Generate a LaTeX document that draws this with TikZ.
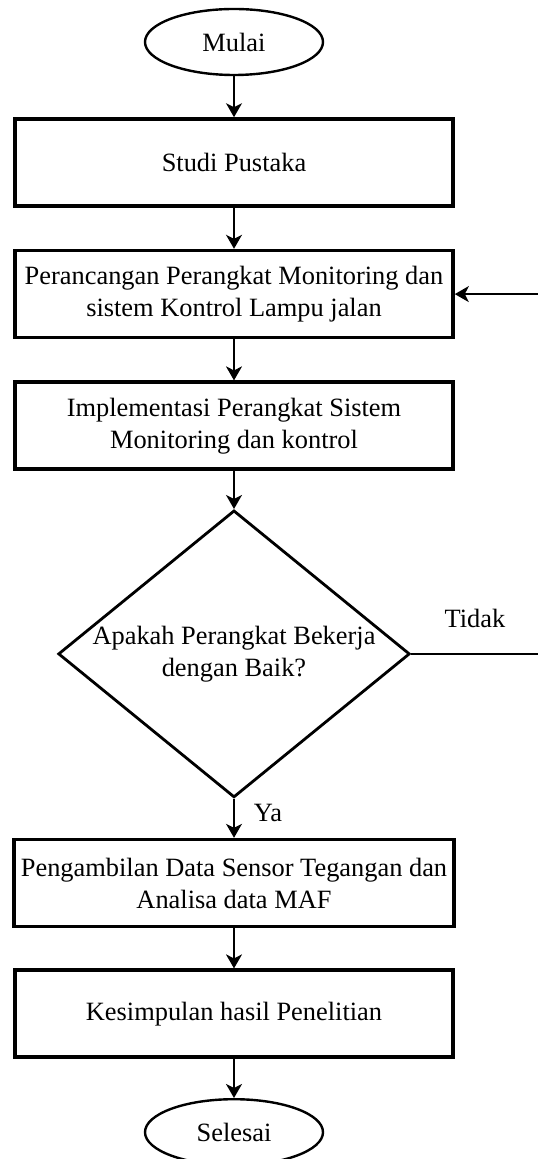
\documentclass[tikz,border=0pt]{standalone}
\usepackage{fontspec}
\setmainfont{Liberation Serif}
\usetikzlibrary{shapes.geometric, arrows.meta, positioning}

\begin{document}
\begin{tikzpicture}[node distance=20.5pt,
        font=\fontsize{13.2}{16}\selectfont,
        proses/.style={rectangle, draw, line width=1.8pt, minimum width=219pt, minimum height=43.5pt, align=center},
        terminal/.style={ellipse, draw, line width=1.2pt, minimum width=89pt, minimum height=33pt},
        keputusan/.style={diamond, draw, line width=1.4pt, minimum width=174pt, minimum height=140.5pt, aspect=1.225, inner sep=0pt, align=center},
        panah/.style={-{Stealth[length=7pt, width=8pt, inset=2pt]}, line width=0.75pt}]
        \useasboundingbox (0,0) rectangle (268.5pt,-579.5pt);

        \node (mulai) [terminal] at (117pt,-21pt) {Mulai};
        \node (studi) [proses, below=of mulai] {Studi Pustaka};
        \node (rancang) [proses, below=20.5pt of studi] {Perancangan Perangkat Monitoring dan\\sistem Kontrol Lampu jalan};
        \node (implementasi) [proses, below=of rancang] {Implementasi Perangkat Sistem\\Monitoring dan kontrol};
        \node (cek) [keputusan, below=19pt of implementasi] {Apakah Perangkat Bekerja\\dengan Baik?};
        \node (ambil) [proses, below=19.5pt of cek] {Pengambilan Data Sensor Tegangan dan\\Analisa data MAF};
        \node (simpul) [proses, below=20pt of ambil] {Kesimpulan hasil Penelitian};
        \node (selesai) [terminal, below=19.5pt of simpul] {Selesai};
        \coordinate (balik) at (270pt,0);

        \draw [panah] (mulai) -- (studi);
        \draw [panah] (studi) -- (rancang);
        \draw [panah] (rancang) -- (implementasi);
        \draw [panah] (implementasi) -- (cek);
        \draw [panah] (cek) -- (ambil);
        \draw [panah] (ambil) -- (simpul);
        \draw [panah] (simpul) -- (selesai);
        \draw [panah] (cek.east) -- (cek.east -| balik) |- (rancang.east);

        \node (tidak) at (237.5pt,-309pt) {Tidak};
        \node (ya) at (134pt,-406.5pt) {Ya};
    \end{tikzpicture}
\end{document}
